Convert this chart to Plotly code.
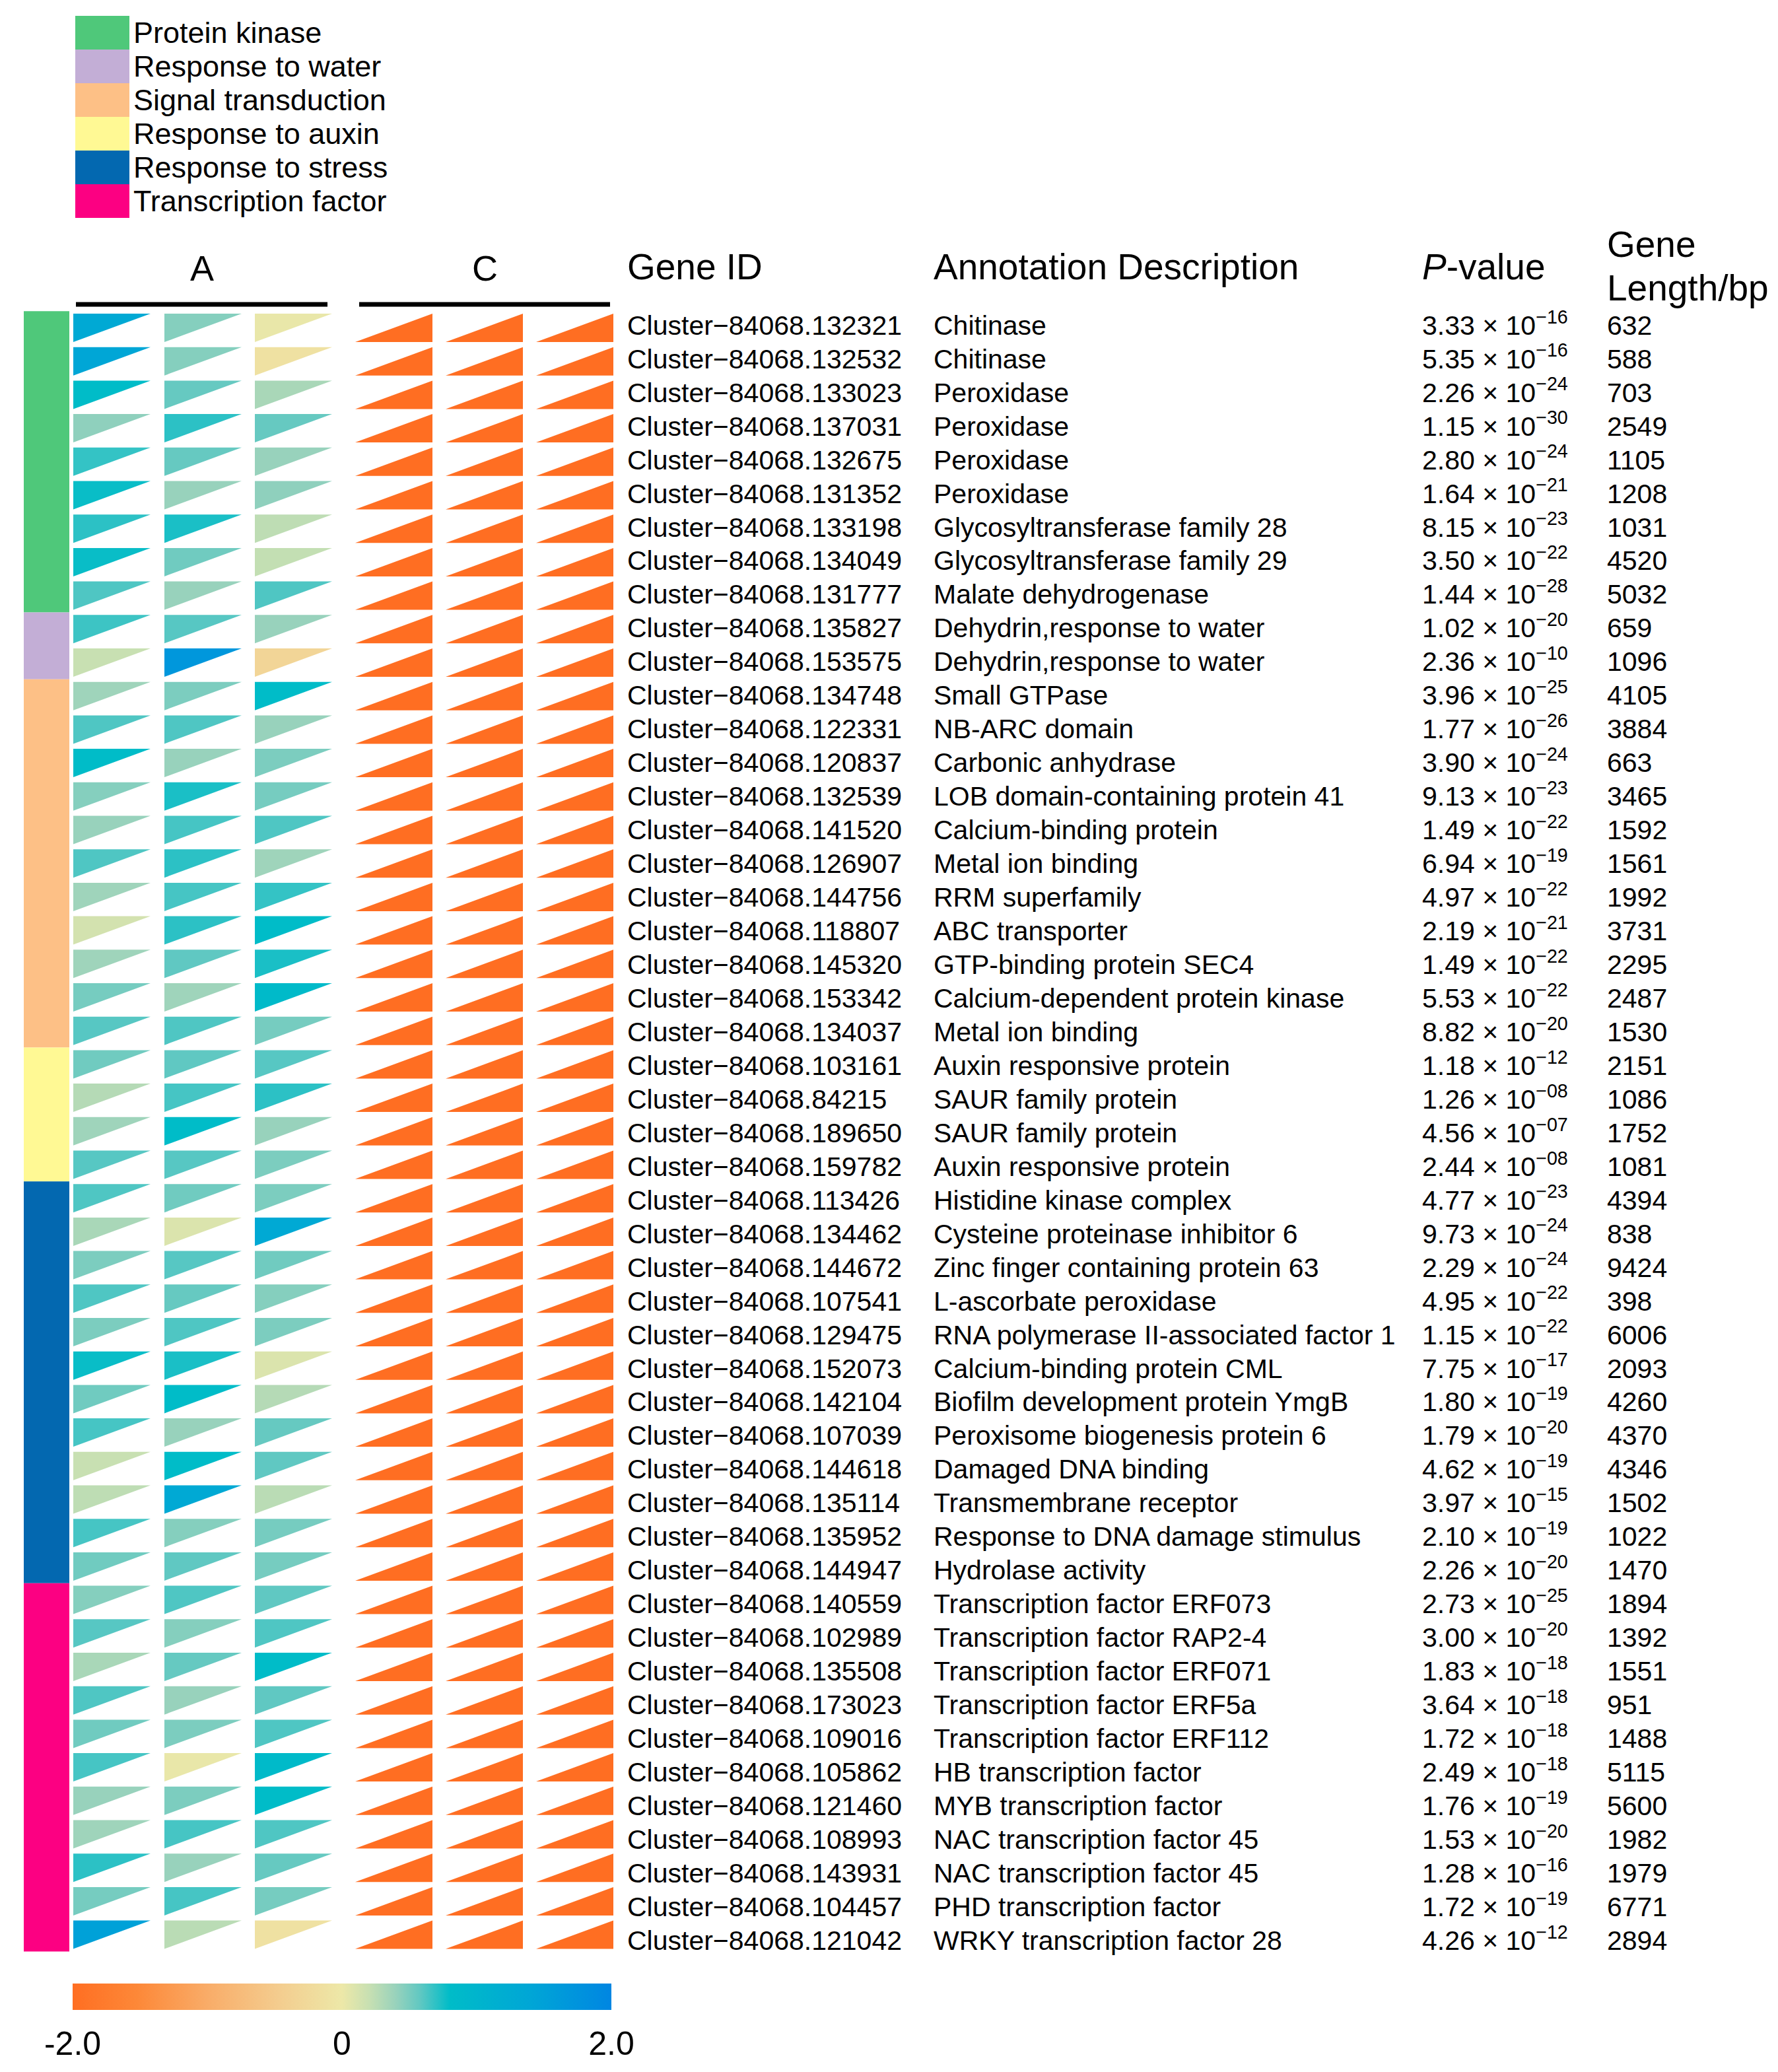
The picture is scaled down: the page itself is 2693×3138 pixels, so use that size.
import plotly.graph_objects as go
from plotly.colors import sample_colorscale

# ---------------- data ----------------
categories = ["Protein kinase", "Response to water", "Signal transduction",
              "Response to auxin", "Response to stress", "Transcription factor"]
category_colors = ["#4FC87A", "#C3AED6", "#FDC086", "#FFF994", "#0368B0", "#FC0082"]
category_counts = [9, 2, 11, 4, 12, 11]

gene_ids = [
    "132321", "132532", "133023", "137031", "132675", "131352", "133198", "134049", "131777",
    "135827", "153575",
    "134748", "122331", "120837", "132539", "141520", "126907", "144756", "118807", "145320",
    "153342", "134037",
    "103161", "84215", "189650", "159782",
    "113426", "134462", "144672", "107541", "129475", "152073", "142104", "107039", "144618",
    "135114", "135952", "144947",
    "140559", "102989", "135508", "173023", "109016", "105862", "121460", "108993", "143931",
    "104457", "121042",
]

annotations_desc = [
    "Chitinase", "Chitinase", "Peroxidase", "Peroxidase", "Peroxidase", "Peroxidase",
    "Glycosyltransferase family 28", "Glycosyltransferase family 29", "Malate dehydrogenase",
    "Dehydrin,response to water", "Dehydrin,response to water",
    "Small GTPase", "NB-ARC domain", "Carbonic anhydrase", "LOB domain-containing protein 41",
    "Calcium-binding protein", "Metal ion binding", "RRM superfamily", "ABC transporter",
    "GTP-binding protein SEC4", "Calcium-dependent protein kinase", "Metal ion binding",
    "Auxin responsive protein", "SAUR family protein", "SAUR family protein", "Auxin responsive protein",
    "Histidine kinase complex", "Cysteine proteinase inhibitor 6", "Zinc finger containing protein 63",
    "L-ascorbate peroxidase", "RNA polymerase II-associated factor 1", "Calcium-binding protein CML",
    "Biofilm development protein YmgB", "Peroxisome biogenesis protein 6", "Damaged DNA binding",
    "Transmembrane receptor", "Response to DNA damage stimulus", "Hydrolase activity",
    "Transcription factor ERF073", "Transcription factor RAP2-4", "Transcription factor ERF071",
    "Transcription factor ERF5a", "Transcription factor ERF112", "HB transcription factor",
    "MYB transcription factor", "NAC transcription factor 45", "NAC transcription factor 45",
    "PHD transcription factor", "WRKY transcription factor 28",
]

p_values = [
    "3.33e-16", "5.35e-16", "2.26e-24", "1.15e-30", "2.80e-24", "1.64e-21", "8.15e-23", "3.50e-22",
    "1.44e-28", "1.02e-20", "2.36e-10", "3.96e-25", "1.77e-26", "3.90e-24", "9.13e-23", "1.49e-22",
    "6.94e-19", "4.97e-22", "2.19e-21", "1.49e-22", "5.53e-22", "8.82e-20", "1.18e-12", "1.26e-08",
    "4.56e-07", "2.44e-08", "4.77e-23", "9.73e-24", "2.29e-24", "4.95e-22", "1.15e-22", "7.75e-17",
    "1.80e-19", "1.79e-20", "4.62e-19", "3.97e-15", "2.10e-19", "2.26e-20", "2.73e-25", "3.00e-20",
    "1.83e-18", "3.64e-18", "1.72e-18", "2.49e-18", "1.76e-19", "1.53e-20", "1.28e-16", "1.72e-19",
    "4.26e-12",
]

gene_lengths = [
    632, 588, 703, 2549, 1105, 1208, 1031, 4520, 5032, 659, 1096, 4105, 3884, 663, 3465, 1592,
    1561, 1992, 3731, 2295, 2487, 1530, 2151, 1086, 1752, 1081, 4394, 838, 9424, 398, 6006, 2093,
    4260, 4370, 4346, 1502, 1022, 1470, 1894, 1392, 1551, 951, 1488, 5115, 5600, 1982, 1979,
    6771, 2894,
]

# expression (log scale) for group A, three replicates
expr_A1 = [1.32, 1.40, 0.80, 0.43, 0.68, 0.78, 0.70, 0.78, 0.62, 0.66, 0.20, 0.37, 0.62, 0.80,
           0.46, 0.40, 0.62, 0.37, 0.14, 0.37, 0.51, 0.60, 0.53, 0.28, 0.37, 0.60, 0.62, 0.33,
           0.49, 0.62, 0.49, 0.78, 0.53, 0.64, 0.20, 0.24, 0.64, 0.53, 0.46, 0.60, 0.33, 0.62,
           0.53, 0.64, 0.40, 0.37, 0.70, 0.51, 1.50]
expr_A2 = [0.46, 0.46, 0.56, 0.70, 0.56, 0.40, 0.74, 0.53, 0.40, 0.60, 1.68, 0.49, 0.62, 0.40,
           0.74, 0.64, 0.70, 0.64, 0.70, 0.58, 0.37, 0.62, 0.58, 0.64, 0.80, 0.60, 0.53, 0.10,
           0.60, 0.56, 0.62, 0.74, 0.80, 0.40, 0.80, 1.32, 0.46, 0.58, 0.62, 0.46, 0.56, 0.40,
           0.49, 0.02, 0.49, 0.64, 0.40, 0.64, 0.26]
expr_A3 = [0.02, -0.12, 0.33, 0.56, 0.40, 0.43, 0.24, 0.22, 0.62, 0.40, -0.32, 0.80, 0.40, 0.49,
           0.51, 0.62, 0.37, 0.68, 0.80, 0.74, 0.85, 0.51, 0.60, 0.70, 0.40, 0.49, 0.49, 1.32,
           0.53, 0.46, 0.49, 0.10, 0.28, 0.56, 0.58, 0.26, 0.51, 0.51, 0.58, 0.62, 0.80, 0.58,
           0.62, 0.85, 0.80, 0.62, 0.56, 0.51, -0.12]
# group C, three replicates
expr_C1 = [-2.0] * 49
expr_C2 = [-2.0] * 49
expr_C3 = [-2.0] * 49

group_labels = ["A", "C"]
colorbar_ticks = [-2.0, 0.0, 2.0]
colorbar_ticktext = ["-2.0", "0", "2.0"]

# ---------------- style / layout ----------------
W, H = 2693, 3138
PAD = 8                             # page body margin around the figure
FW, FH = W - 2 * PAD, H - 2 * PAD   # figure size
ROW0, PITCH = 496.5, 50.7           # page-pixel centre of first row, row pitch
TEXT_PITCH = 50.96                  # table text rows are spaced slightly wider
HALF = 0.424                        # triangle half height (row units)
TRI_W = 117
A_X0 = [111, 249, 386]
C_X0 = [538, 675, 812]
FONT = "Liberation Sans, Arial, sans-serif"

colorscale = [
    [0.0, "#FF6E22"], [0.12, "#FD8838"], [0.25, "#F9AC68"], [0.38, "#F4CC8E"],
    [0.5, "#EDE8A8"], [0.55, "#C8E0B2"], [0.6, "#98D2BC"], [0.645, "#60C8C2"],
    [0.70, "#00BCC8"], [0.85, "#00A6D6"], [1.0, "#0086E2"],
]
VMIN, VMAX = -2.0, 2.0


def ry(p):
    return (p - ROW0) / PITCH


def col(v):
    t = (min(max(v, VMIN), VMAX) - VMIN) / (VMAX - VMIN)
    return sample_colorscale(colorscale, [t])[0]


fig = go.Figure()

# category side bar
start = 0
for name, c, n in zip(categories, category_colors, category_counts):
    y0, y1 = start - 0.5, start + n - 0.5
    fig.add_trace(go.Scatter(x=[36, 105, 105, 36, 36], y=[y0, y0, y1, y1, y0],
                             mode="lines", fill="toself", fillcolor=c,
                             line=dict(width=0, color=c), hoverinfo="skip"))
    start += n

# group A triangles (upper-left right triangles)
for x0, vals in zip(A_X0, [expr_A1, expr_A2, expr_A3]):
    for r, v in enumerate(vals):
        c = col(v)
        fig.add_trace(go.Scatter(
            x=[x0, x0 + TRI_W, x0, x0], y=[r - HALF, r - HALF, r + HALF, r - HALF],
            mode="lines", fill="toself", fillcolor=c, line=dict(width=0, color=c),
            hoverinfo="text", text=f"{v:.2f}"))

# group C triangles (lower-right right triangles)
for x0, vals in zip(C_X0, [expr_C1, expr_C2, expr_C3]):
    for r, v in enumerate(vals):
        c = col(v)
        fig.add_trace(go.Scatter(
            x=[x0, x0 + TRI_W, x0 + TRI_W, x0], y=[r + HALF, r + HALF, r - HALF, r + HALF],
            mode="lines", fill="toself", fillcolor=c, line=dict(width=0, color=c),
            hoverinfo="text", text=f"{v:.2f}"))

text_rows = [k * TEXT_PITCH / PITCH for k in range(len(gene_ids))]
TXT = dict(size=41, family=FONT, color="black")
n = len(text_rows)

fig.add_trace(go.Scatter(x=[950] * n, y=text_rows, mode="text",
                         text=["Cluster\u221284068." + g for g in gene_ids],
                         textposition="middle right", textfont=TXT, hoverinfo="skip"))
fig.add_trace(go.Scatter(x=[1414] * n, y=text_rows, mode="text", text=annotations_desc,
                         textposition="middle right", textfont=TXT, hoverinfo="skip"))


def fmt_p(s):
    m, e = s.split("e")
    return f"{m} \u00d7 10<sup>\u2212{e.lstrip('-')}</sup>"


fig.add_trace(go.Scatter(x=[2154] * n, y=text_rows, mode="text",
                         text=[fmt_p(p) for p in p_values],
                         textposition="middle right", textfont=TXT, hoverinfo="skip"))
fig.add_trace(go.Scatter(x=[2434] * n, y=text_rows, mode="text",
                         text=[str(g) for g in gene_lengths],
                         textposition="middle right", textfont=TXT, hoverinfo="skip"))

# colour bar carrier
fig.add_trace(go.Scatter(
    x=[-500], y=[0], mode="markers", hoverinfo="skip",
    marker=dict(size=1, color=[0], colorscale=colorscale, cmin=VMIN, cmax=VMAX, showscale=True,
                colorbar=dict(orientation="h", lenmode="pixels", len=816, thickness=40,
                              x=(518 - PAD) / FW, xanchor="center",
                              y=1 - (3004 - PAD) / FH, yanchor="top",
                              xpad=0, ypad=0, outlinewidth=0,
                              tickvals=colorbar_ticks, ticktext=colorbar_ticktext,
                              ticks="outside", ticklen=8, tickcolor="rgba(0,0,0,0)",
                              tickfont=dict(size=50, family=FONT, color="black")))))

annots = []
shapes = []

# group headers
for lab, x0, x1 in zip(group_labels, [115, 544], [496, 924]):
    shapes.append(dict(type="line", xref="x", yref="y", x0=x0, x1=x1, y0=ry(461), y1=ry(461),
                       line=dict(color="black", width=7)))
    annots.append(dict(x=(x0 + x1) / 2, y=ry(406), xref="x", yref="y", text=lab, showarrow=False,
                       xanchor="center", yanchor="middle",
                       font=dict(size=54, family=FONT, color="black")))

HDR = dict(size=55, family=FONT, color="black")
for txt, x, y in [("Gene ID", 948, 404), ("Annotation Description", 1412, 404),
                  ("<i>P</i>-value", 2152, 404), ("Gene", 2432, 370), ("Length/bp", 2432, 436)]:
    annots.append(dict(x=x, y=ry(y), xref="x", yref="y", text=txt, showarrow=False,
                       xanchor="left", yanchor="middle", font=HDR))

# legend
for i, (name, c) in enumerate(zip(categories, category_colors)):
    y0, y1 = 24 + i * 51, 24 + (i + 1) * 51
    shapes.append(dict(type="rect", xref="x", yref="y", x0=114, x1=196, y0=ry(y0), y1=ry(y1),
                       fillcolor=c, line=dict(width=0)))
    annots.append(dict(x=200, y=ry((y0 + y1) / 2), xref="x", yref="y", text=name, showarrow=False,
                       xanchor="left", yanchor="middle",
                       font=dict(size=45, family=FONT, color="black")))

fig.update_layout(
    width=FW, height=FH, margin=dict(l=0, r=0, t=0, b=0),
    paper_bgcolor="white", plot_bgcolor="white", showlegend=False,
    xaxis=dict(range=[PAD, PAD + FW], visible=False, fixedrange=True),
    yaxis=dict(range=[ry(PAD + FH), ry(PAD)], visible=False, fixedrange=True),
    annotations=annots, shapes=shapes,
)

fig.write_html("out.html")
